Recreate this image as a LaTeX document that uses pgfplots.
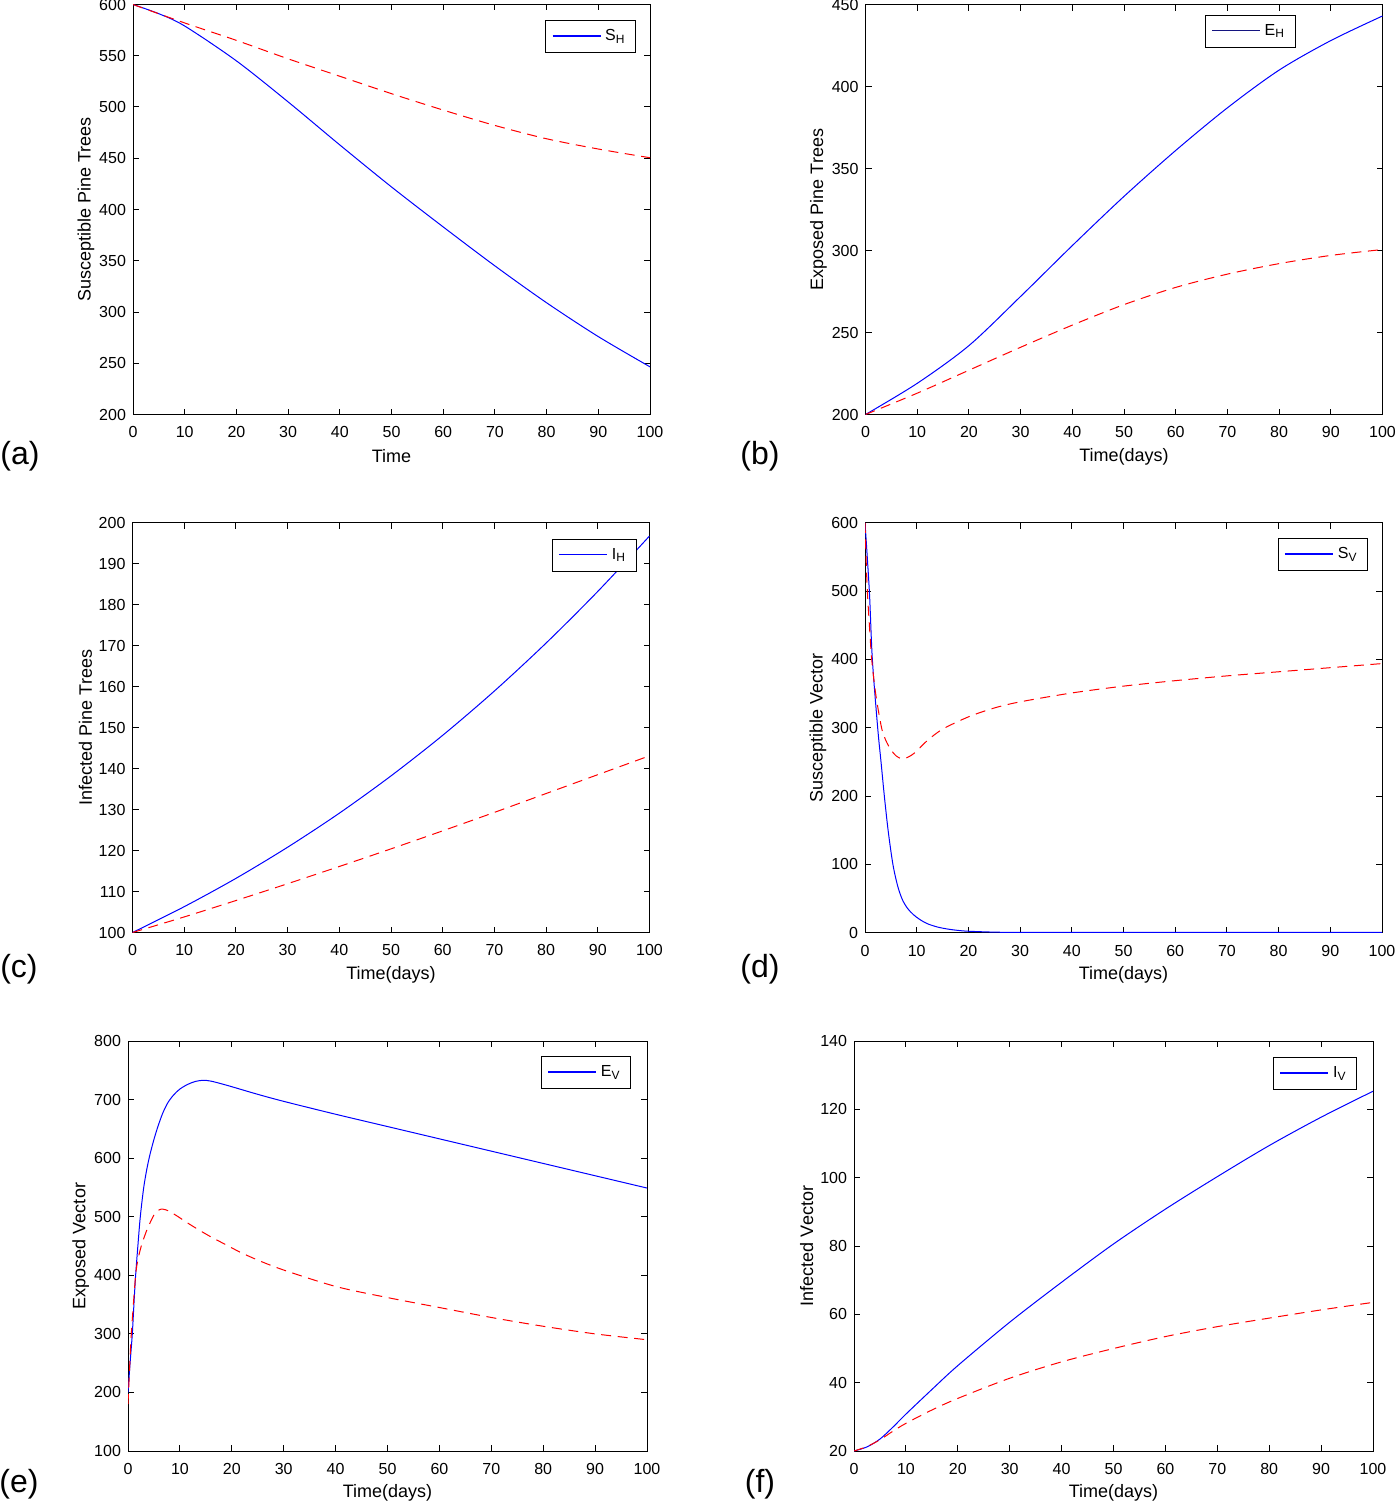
\documentclass[border=0pt]{standalone}
\usepackage{fontspec}
\setmainfont{Liberation Sans}
\usepackage{pgfplots}
\pgfplotsset{compat=1.18}
\definecolor{navy}{rgb}{0.08,0.08,0.5}
\pgfplotsset{
  panel/.style={
    scale only axis, width=258.5pt, height=205pt,
    anchor=south west,
    xmin=0, xmax=100,
    xtick={0,10,...,100},
    axis line style={line width=0.5pt},
    every tick/.style={line width=0.5pt, black},
    major tick length=3pt,
    tick align=inside,
    scaled ticks=false,
    ticklabel style={font=\fontsize{8}{9}\selectfont},
    xticklabel style={yshift=-2.5pt},
    /pgf/number format/assume math mode=true,
    /pgf/number format/1000 sep={},
    every axis x label/.style={at={(axis description cs:0.5,-0.1024)}, anchor=center, font=\fontsize{9}{10}\selectfont},
    every axis y label/.style={at={(axis description cs:-0.091,0.5)}, rotate=90, anchor=center, font=\fontsize{9}{10}\selectfont},
    legend style={draw=black, line width=0.5pt, font=\fontsize{8}{9}\selectfont, inner xsep=3pt, inner ysep=2.5pt, anchor=north east, at={(1,1)}},
    legend image code/.code={\draw[draw=blue, line width=0.65pt] (0pt,0.3pt) -- (24pt,0.3pt);},
    legend cell align=left,
  },
  bl/.style={color=blue, line width=0.5pt, mark=none, smooth, tension=0.5},
  rd/.style={color=red, line width=0.5pt, mark=none, smooth, tension=0.5, dash pattern=on 5pt off 3.3pt, forget plot},
}
\newcommand{\plab}[1]{{\fontsize{16}{18}\selectfont #1}}
\begin{document}
\begin{tikzpicture}
\useasboundingbox (0,0) rectangle (698.5pt,-751.5pt);

% (a)
\begin{axis}[panel, at={(66.5pt,-207.25pt)},
  ymin=200, ymax=600, ytick={200,250,...,600},
  xlabel={Time}, ylabel={Susceptible Pine Trees},
  legend style={xshift=-7pt, yshift=-7.75pt}]
\addplot[bl] coordinates {(0,600) (5,591) (10,579) (20,545) (30,505) (40,463) (50,422) (60,383) (70,345) (80,309) (90,276) (100,246.5)};
\addlegendentry{S\textsubscript{H}}
\addplot[rd] coordinates {(0,600) (10,582) (20,565) (30,547) (40,530) (50,513) (60,497) (70,482) (80,469) (90,459) (100,450.5)};
\end{axis}
\node at (10pt,-228pt) {\plab{(a)}};

% (b)
\begin{axis}[panel, at={(432.75pt,-207.25pt)},
  ymin=200, ymax=450, ytick={200,250,...,450},
  xlabel={Time(days)}, ylabel={Exposed Pine Trees},
  legend image code/.code={\draw[draw=navy, line width=0.65pt] (0pt,0.3pt) -- (24pt,0.3pt);},
  legend style={xshift=-43.5pt, yshift=-5pt}]
\addplot[bl] coordinates {(0,200) (10,219) (20,242) (30,272) (40,303) (50,333) (60,361) (70,387) (80,410) (90,428) (100,443)};
\addlegendentry{E\textsubscript{H}}
\addplot[rd] coordinates {(0,200) (10,213) (20,227) (30,241) (40,254.5) (50,267) (60,277.5) (70,285.6) (80,292) (90,297) (100,300.6)};
\end{axis}
\node at (380pt,-228pt) {\plab{(b)}};

% (c)
\begin{axis}[panel, at={(66.25pt,-466.25pt)},
  ymin=100, ymax=200, ytick={100,110,...,200},
  xlabel={Time(days)}, ylabel={Infected Pine Trees},
  legend style={xshift=-6.5pt, yshift=-8pt}]
\addplot[bl] coordinates {(0,100) (10,106.3) (20,113.2) (30,120.8) (40,129.1) (50,138.2) (60,148.1) (70,158.9) (80,170.6) (90,183.2) (100,196.7)};
\addlegendentry{I\textsubscript{H}}
\addplot[rd] coordinates {(0,100) (10,103.8) (20,107.8) (30,111.9) (40,116.1) (50,120.4) (60,124.8) (70,129.3) (80,133.9) (90,138.5) (100,143.1)};
\end{axis}
\node at (9.5pt,-484.5pt) {\plab{(c)}};

% (d)
\begin{axis}[panel, at={(432.5pt,-466.4pt)},
  ymin=0, ymax=600, ytick={0,100,...,600},
  xlabel={Time(days)}, ylabel={Susceptible Vector},
  legend image code/.code={\draw[draw=blue, line width=0.85pt] (0pt,0.3pt) -- (24pt,0.3pt);},
  legend style={xshift=-7pt, yshift=-7.5pt}]
\addplot[bl] coordinates {(0,600) (0.84,500) (1.42,400) (2.45,300) (3.1,250) (3.74,200) (4.5,148) (5.4,100) (6.3,69) (7.2,49) (8.2,36) (9.3,27) (10.5,20) (12,13.5) (14,8.5) (16,5.5) (18,3.5) (20,2.3) (25,1) (30,0.6) (50,0.5) (100,0.5)};
\addlegendentry{S\textsubscript{V}}
\addplot[rd] coordinates {(0,600) (0.2,550) (0.45,500) (0.85,450) (1.3,400) (2.06,350) (3.2,300) (4,282) (5,268) (6,259) (7,255) (8,256) (9,260) (10,266) (12,281) (15,298) (20,316) (25,329) (30,338) (40,351) (50,361) (60,369) (70,376) (80,382) (90,388) (100,394)};
\end{axis}
\node at (380pt,-484.5pt) {\plab{(d)}};

% (e)
\begin{axis}[panel, width=259.5pt, at={(64pt,-725.5pt)},
  ymin=100, ymax=800, ytick={100,200,...,800},
  xlabel={Time(days)}, ylabel={Exposed Vector},
  legend style={xshift=-8pt, yshift=-7.5pt}]
\addplot[bl] coordinates {(0,200) (0.4,250) (0.83,300) (1.2,360) (1.47,400) (1.9,450) (2.37,500) (3,548) (3.6,580) (4.2,605) (5,632) (5.8,655) (6.7,677) (7.7,695) (8.8,708) (10,718) (11.5,726) (13,731) (14.5,733) (16,731.5) (18,727) (20,722) (25,709) (30,697) (40,675) (50,654) (60,633) (70,612) (80,591) (90,570) (100,549)};
\addlegendentry{E\textsubscript{V}}
\addplot[rd] coordinates {(0,180) (0.3,240) (0.64,300) (1.47,400) (2,430) (2.56,450) (3.2,467) (3.85,482) (5,503) (5.7,510) (6.4,513) (7.2,512) (8,509) (9.5,501) (11.2,491) (13,481) (15.7,467) (18.9,452) (21.5,440) (25,426) (30,409) (40,381) (50,362) (60,345) (70,328) (80,313) (90,300) (100,290)};
\end{axis}
\node at (9.5pt,-742pt) {\plab{(e)}};

% (f)
\begin{axis}[panel, width=259.5pt, at={(427pt,-725.5pt)},
  ymin=20, ymax=140, ytick={20,40,...,140},
  xlabel={Time(days)}, ylabel={Infected Vector},
  legend style={xshift=-8pt, yshift=-8pt}]
\addplot[bl] coordinates {(0,20) (2.5,21.2) (5,23.5) (7.5,27) (10,30.8) (15,38) (20,45) (30,57.7) (40,69.4) (50,80.6) (60,90.8) (70,100.3) (80,109.4) (90,117.7) (100,125.3)};
\addlegendentry{I\textsubscript{V}}
\addplot[rd] coordinates {(0,20) (2.5,21.3) (5,23.3) (7.5,25.8) (10,28.1) (15,32) (20,35.4) (30,41.3) (40,46.1) (50,50) (60,53.5) (70,56.4) (80,58.9) (90,61.3) (100,63.5)};
\end{axis}
\node at (380pt,-742pt) {\plab{(f)}};
\end{tikzpicture}
\end{document}
